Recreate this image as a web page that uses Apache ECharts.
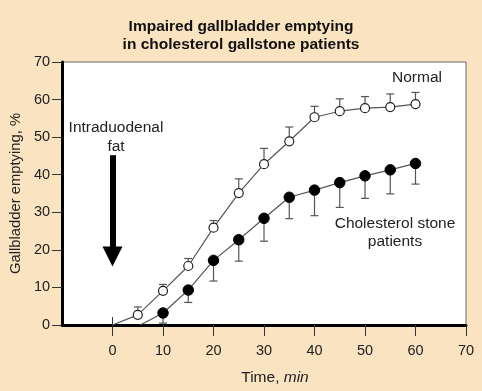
<!DOCTYPE html>
<html><head><meta charset="utf-8">
<script src="https://cdn.jsdelivr.net/npm/echarts@6/dist/echarts.min.js"></script>
<style>html,body{margin:0;padding:0;background:#F9E3C1}#c{width:482px;height:391px}</style>
</head><body><div id="c"></div>
<script>
// ---- data ----
const normalTimes = [0, 5, 10, 15, 20, 25, 30, 35, 40, 45, 50, 55, 60];
const normalMean  = [0, 2.7, 9.1, 15.7, 25.9, 35.1, 42.8, 48.9, 55.3, 56.9, 57.7, 58.0, 58.8];
const normalUpper = [null, 4.8, 10.8, 17.7, 27.8, 38.9, 47.0, 52.7, 58.2, 60.2, 60.8, 61.5, 61.9];

const stoneTimes = [5.5, 10, 15, 20, 25, 30, 35, 40, 45, 50, 55, 60];
const stoneMean  = [0, 3.2, 9.3, 17.2, 22.7, 28.4, 34.0, 35.9, 37.9, 39.7, 41.3, 43.0];
const stoneLower = [null, 0.5, 6.0, 11.7, 17.0, 22.3, 28.3, 29.1, 31.3, 33.7, 34.9, 37.5];

const xTicks = [0, 10, 20, 30, 40, 50, 60, 70];
const arrowFrom = [0, 45.2];
const arrowTo = [0, 18.2];

const FONT = 'Liberation Sans, Arial, Helvetica, sans-serif';
const TXT = '#222';

function lineData(ts, ms) {
  return ts.map((t, i) => i === 0 ? {value: [t, ms[i]], symbol: 'none'} : [t, ms[i]]);
}
function barData(ts, ms, ends) {
  const out = [];
  ts.forEach((t, i) => { if (ends[i] != null) out.push([t, ms[i], ends[i]]); });
  return out;
}
function renderBar(params, api) {
  const a = api.coord([api.value(0), api.value(1)]);
  const b = api.coord([api.value(0), api.value(2)]);
  const hw = 4;
  return {
    type: 'group',
    children: [
      {type: 'line', shape: {x1: a[0], y1: a[1], x2: b[0], y2: b[1]}, style: {stroke: '#555', lineWidth: 1.2}},
      {type: 'line', shape: {x1: b[0] - hw, y1: b[1], x2: b[0] + hw, y2: b[1]}, style: {stroke: '#555', lineWidth: 1.2}}
    ]
  };
}

const chart = echarts.init(document.getElementById('c'));
chart.setOption({
  animation: false,
  backgroundColor: '#F9E3C1',
  textStyle: {fontFamily: FONT},
  title: {
    text: 'Impaired gallbladder emptying\nin cholesterol gallstone patients',
    left: 'center', top: 13,
    textStyle: {fontFamily: FONT, fontSize: 15.5, fontWeight: 'bold', color: '#111', lineHeight: 18}
  },
  grid: {left: 62, right: 16, top: 62, bottom: 64, show: true, backgroundColor: '#fff', borderColor: '#666', borderWidth: 1},
  xAxis: {
    type: 'value', min: -10, max: 70, interval: 10,
    name: '{a|Time, }{b|min}', nameLocation: 'middle', nameGap: 45,
    nameTextStyle: {padding: [0, 0, 0, 22], rich: {
      a: {fontFamily: FONT, fontSize: 15.5, color: TXT},
      b: {fontFamily: FONT, fontSize: 15.5, color: TXT, fontStyle: 'italic'}
    }},
    axisLine: {show: true, onZero: false, lineStyle: {color: '#000', width: 3}},
    axisTick: {show: true, length: 11, customValues: xTicks, lineStyle: {color: '#333', width: 1}},
    axisLabel: {customValues: xTicks, fontSize: 14.5, color: TXT, margin: 18, fontFamily: FONT},
    splitLine: {show: false}
  },
  yAxis: {
    type: 'value', min: 0, max: 70, interval: 10,
    name: 'Gallbladder emptying, %', nameLocation: 'middle', nameGap: 39,
    nameTextStyle: {fontSize: 14.8, color: TXT, fontFamily: FONT},
    axisLine: {show: true, onZero: false, lineStyle: {color: '#000', width: 3}},
    axisTick: {show: true, length: 10, lineStyle: {color: '#333', width: 1}},
    axisLabel: {fontSize: 14.5, color: TXT, margin: 12, fontFamily: FONT},
    splitLine: {show: false}
  },
  graphic: [
    {type: 'text', x: 417, y: 78, style: {text: 'Normal', font: '15.5px ' + FONT, fill: TXT, align: 'center', verticalAlign: 'middle'}},
    {type: 'text', x: 395, y: 233, style: {text: 'Cholesterol stone\npatients', font: '15.5px ' + FONT, fill: TXT, align: 'center', verticalAlign: 'middle', lineHeight: 18}},
    {type: 'text', x: 116, y: 137, style: {text: 'Intraduodenal\nfat', font: '15.5px ' + FONT, fill: TXT, align: 'center', verticalAlign: 'middle', lineHeight: 19}}
  ],
  series: [
    {type: 'custom', name: 'Normal SE', data: barData(normalTimes, normalMean, normalUpper), renderItem: renderBar, z: 1, silent: true},
    {type: 'custom', name: 'Stone SE', data: barData(stoneTimes, stoneMean, stoneLower), renderItem: renderBar, z: 1, silent: true},
    {
      type: 'line', name: 'Normal', data: lineData(normalTimes, normalMean), z: 3,
      symbol: 'circle', symbolSize: 9,
      itemStyle: {color: '#fff', borderColor: '#222', borderWidth: 1.2},
      lineStyle: {color: '#555', width: 1.2},
      markLine: {
        silent: true, animation: false, label: {show: false}, symbol: 'none',
        data: [
          [{coord: arrowFrom, symbol: 'none', lineStyle: {color: '#000', width: 6, type: 'solid'}},
           {coord: arrowTo, symbol: 'triangle', symbolSize: 20}]
        ]
      }
    },
    {
      type: 'line', name: 'Cholesterol stone patients', data: lineData(stoneTimes, stoneMean), z: 3,
      symbol: 'circle', symbolSize: 10.5,
      itemStyle: {color: '#000', borderColor: '#000', borderWidth: 1},
      lineStyle: {color: '#555', width: 1.2},
      markLine: {
        silent: true, animation: false, label: {show: false}, symbol: 'none',
        lineStyle: {color: '#333', width: 1, type: 'solid'},
        data: [[{coord: [0, 0]}, {coord: [0, 2.1]}]]
      }
    }
  ]
});
</script></body></html>
